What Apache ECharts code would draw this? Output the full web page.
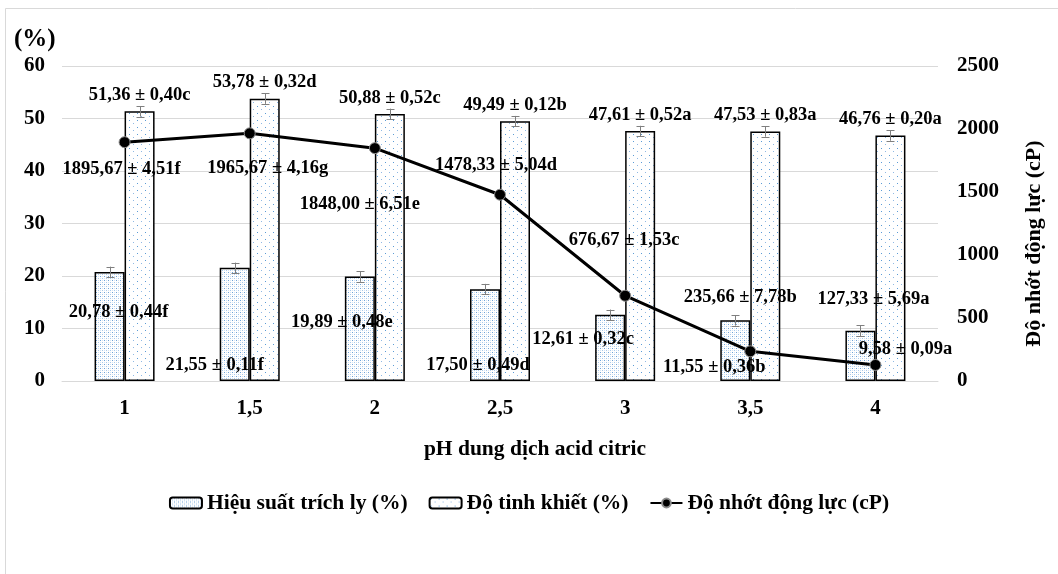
<!DOCTYPE html>
<html>
<head>
<meta charset="utf-8">
<script src="https://cdn.jsdelivr.net/npm/echarts@6/dist/echarts.min.js"></script>
<style>
html,body{margin:0;padding:0;background:#fff;}
#chart{width:1058px;height:574px;}
</style>
</head>
<body>
<div id="chart"></div>
<script>
// ---- Data ----
const categories = ['1', '1,5', '2', '2,5', '3', '3,5', '4'];

const hieuSuat = [20.78, 21.55, 19.89, 17.50, 12.61, 11.55, 9.58];
const hieuSuatSD = ['0,44', '0,11', '0,48', '0,49', '0,32', '0,36', '0,09'];
const hieuSuatLetter = ['f', 'f', 'e', 'd', 'c', 'b', 'a'];
const hieuSuatErrBar = [1, 1, 1, 1, 1, 1, 1];

const doTinhKhiet = [51.36, 53.78, 50.88, 49.49, 47.61, 47.53, 46.76];
const doTinhKhietSD = ['0,40', '0,32', '0,52', '0,12', '0,52', '0,83', '0,20'];
const doTinhKhietLetter = ['c', 'd', 'c', 'b', 'a', 'a', 'a'];
const doTinhKhietErrBar = [1, 1, 1, 1, 1, 1, 1];

const doNhot = [1895.67, 1965.67, 1848.00, 1478.33, 676.67, 235.66, 127.33];
const doNhotSD = ['4,51', '4,16', '6,51', '5,04', '1,53', '7,78', '5,69'];
const doNhotLetter = ['f', 'g', 'e', 'd', 'c', 'b', 'a'];

const leftTicks = {min: 0, max: 60, interval: 10};
const rightTicks = {min: 0, max: 2500, interval: 500};

// ---- label placement offsets (styling) ----
const hsLabelOffset = [[9, 40], [-20, 97], [-18, 46], [-7, 76], [-27, 24], [-21, 47], [45, 19]];
const nhotLabelOffset = [[-3, 27], [18, 35], [-15, 56], [-4, -30], [-1, -56], [-10, -54], [-2, -66]];

const FONT = '"Liberation Serif", "Times New Roman", serif';
const BAR_W = 30;

function makePattern(w, h, dots) {
  const c = document.createElement('canvas');
  c.width = w; c.height = h;
  const ctx = c.getContext('2d');
  ctx.fillStyle = '#ffffff';
  ctx.fillRect(0, 0, w, h);
  dots.forEach(d => { ctx.fillStyle = d[2]; ctx.fillRect(d[0], d[1], 1, 1); });
  return c;
}
const densePattern = makePattern(4, 4, [[0, 0, '#6fa3d8'], [2, 2, '#a9c9ea'], [2, 0, '#d4e4f5'], [0, 2, '#d4e4f5']]);
const sparsePattern = makePattern(8, 7, [[1, 1, '#5b9bd5'], [5, 4, '#8fb8e3']]);

function fmt(v, d) { return v.toFixed(d).replace('.', ','); }

const labelFont = {fontFamily: FONT, fontWeight: 'bold', fontSize: 18.5, color: '#000'};
const axisLabelFont = {fontFamily: FONT, fontWeight: 'bold', fontSize: 21, color: '#000'};

const hsData = hieuSuat.map((v, i) => ({
  value: v,
  label: Object.assign({
    show: true, position: 'top', distance: 0, verticalAlign: 'middle', align: 'center',
    offset: hsLabelOffset[i],
    formatter: fmt(v, 2) + ' ± ' + hieuSuatSD[i] + hieuSuatLetter[i]
  }, labelFont)
}));
const tkData = doTinhKhiet.map((v, i) => ({
  value: v,
  label: Object.assign({
    show: true, position: 'top', distance: 0, verticalAlign: 'middle', align: 'center',
    offset: [0, -16],
    formatter: fmt(v, 2) + ' ± ' + doTinhKhietSD[i] + doTinhKhietLetter[i]
  }, labelFont)
}));
const nhotData = doNhot.map((v, i) => ({
  value: v,
  label: Object.assign({
    show: true, position: 'inside', verticalAlign: 'middle', align: 'center',
    offset: nhotLabelOffset[i],
    formatter: fmt(v, 2) + ' ± ' + doNhotSD[i] + doNhotLetter[i]
  }, labelFont)
}));

function errSeries(values, errs, dx) {
  return {
    type: 'custom',
    xAxisIndex: 0, yAxisIndex: 0,
    silent: true, z: 5,
    data: values.map((v, i) => [i, v - errs[i], v + errs[i]]),
    encode: {x: 0, y: [1, 2]},
    renderItem: function (params, api) {
      const lo = api.coord([api.value(0), api.value(1)]);
      const hi = api.coord([api.value(0), api.value(2)]);
      const x = Math.round(lo[0] + dx) + 0.5;
      const cw = 4;
      const st = {stroke: '#7f7f7f', lineWidth: 1};
      return {
        type: 'group',
        children: [
          {type: 'line', shape: {x1: x, y1: lo[1], x2: x, y2: hi[1]}, style: st},
          {type: 'line', shape: {x1: x - cw, y1: Math.round(lo[1]) + 0.5, x2: x + cw, y2: Math.round(lo[1]) + 0.5}, style: st},
          {type: 'line', shape: {x1: x - cw, y1: Math.round(hi[1]) + 0.5, x2: x + cw, y2: Math.round(hi[1]) + 0.5}, style: st}
        ]
      };
    }
  };
}

const chart = echarts.init(document.getElementById('chart'), null, {renderer: 'canvas'});
chart.setOption({
  backgroundColor: '#fff',
  animation: false,
  textStyle: {fontFamily: FONT},
  graphic: [
    {type: 'rect', shape: {x: 5.5, y: 8.5, width: 1200, height: 800}, style: {fill: 'none', stroke: '#d9d9d9', lineWidth: 1}, z: -10},
    {type: 'text', left: 14, top: 27, style: {text: '(%)', fontFamily: FONT, fontWeight: 'bold', fontSize: 25, fill: '#000'}},
    {type: 'text', x: 1034, y: 243.5, rotation: Math.PI / 2,
     style: {text: 'Độ nhớt động lực (cP)', fontFamily: FONT, fontWeight: 'bold', fontSize: 22, fill: '#000', align: 'center', verticalAlign: 'middle'}}
  ],
  grid: {left: 62, right: 120, top: 66, bottom: 193, containLabel: false},
  legend: {
    top: 487, left: 'center',
    itemWidth: 32, itemHeight: 11, itemGap: 21,
    textStyle: {fontFamily: FONT, fontWeight: 'bold', fontSize: 21.5, color: '#000'},
    data: ['Hiệu suất trích ly (%)', 'Độ tinh khiết (%)', 'Độ nhớt động lực (cP)']
  },
  xAxis: {
    type: 'category',
    data: categories,
    name: 'pH dung dịch acid citric',
    nameLocation: 'middle',
    nameGap: 57,
    nameTextStyle: {fontFamily: FONT, fontWeight: 'bold', fontSize: 21.5, color: '#000', padding: [0, 0, 0, 70]},
    axisLine: {show: true, lineStyle: {color: '#d9d9d9'}},
    axisTick: {show: false},
    axisLabel: Object.assign({margin: 17}, axisLabelFont)
  },
  yAxis: [
    {
      type: 'value', min: leftTicks.min, max: leftTicks.max, interval: leftTicks.interval,
      axisLine: {show: false}, axisTick: {show: false},
      splitLine: {lineStyle: {color: '#d9d9d9', width: 1}},
      axisLabel: Object.assign({margin: 17}, axisLabelFont)
    },
    {
      type: 'value', min: rightTicks.min, max: rightTicks.max, interval: rightTicks.interval,
      position: 'right',
      axisLine: {show: false}, axisTick: {show: false},
      splitLine: {show: false},
      axisLabel: Object.assign({margin: 19, formatter: v => String(v)}, axisLabelFont)
    }
  ],
  series: [
    {
      name: 'Hiệu suất trích ly (%)',
      type: 'bar', yAxisIndex: 0,
      barWidth: BAR_W, barGap: '0%',
      itemStyle: {color: {image: densePattern, repeat: 'repeat'}, borderColor: '#000', borderWidth: 1.5},
      data: hsData, z: 2
    },
    {
      name: 'Độ tinh khiết (%)',
      type: 'bar', yAxisIndex: 0,
      barWidth: BAR_W, barGap: '0%',
      itemStyle: {color: {image: sparsePattern, repeat: 'repeat'}, borderColor: '#000', borderWidth: 1.5},
      data: tkData, z: 2
    },
    {
      name: 'Độ nhớt động lực (cP)',
      type: 'line', yAxisIndex: 1,
      symbol: 'circle', symbolSize: 11,
      lineStyle: {color: '#000', width: 3},
      itemStyle: {color: '#000', borderColor: '#8c8c8c', borderWidth: 1},
      data: nhotData, z: 6
    },
    errSeries(hieuSuat, hieuSuatErrBar, -BAR_W / 2),
    errSeries(doTinhKhiet, doTinhKhietErrBar, BAR_W / 2)
  ]
});
</script>
</body>
</html>
